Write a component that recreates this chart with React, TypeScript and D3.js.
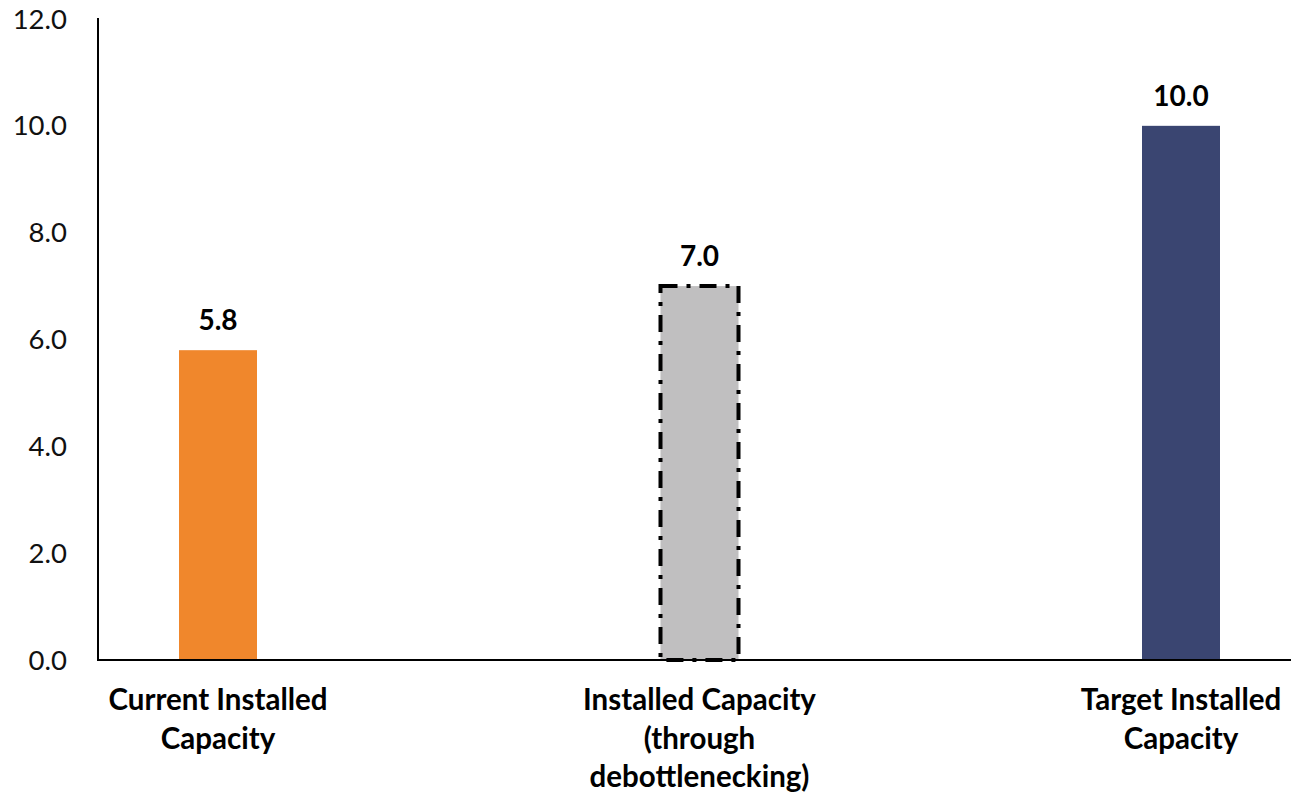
import React from "react";
import * as d3 from "d3";

const categories: string[][] = [
  ["Current Installed", "Capacity"],
  ["Installed Capacity", "(through", "debottlenecking)"],
  ["Target Installed", "Capacity"],
];
const values: number[] = [5.8, 7.0, 10.0];
const fills: string[] = ["#F0872C", "#C0BFC0", "#3A4571"];
const yTicks: number[] = [0, 2, 4, 6, 8, 10, 12];

const W = 1291;
const H = 796;
const FONT = "Lato, 'Open Sans', sans-serif";

export default function App() {
  const y = d3.scaleLinear().domain([0, 12]).range([660, 19]);
  const x = d3.scalePoint<number>().domain([0, 1, 2]).range([218, 1181]);
  const barW = 78;
  const fmt = d3.format(".1f");

  return (
    <svg
      width={W}
      height={H}
      style={{ position: "absolute", left: 0, top: 0, background: "#fff" }}
    >
      {yTicks.map((t) => (
        <text
          key={t}
          x={67}
          y={y(t)}
          dy="0.35em"
          textAnchor="end"
          fontFamily={FONT}
          fontSize={27.5}
          fill="#111"
        >
          {fmt(t)}
        </text>
      ))}

      {values.map((v, i) => {
        const cx = x(i)!;
        const dashed = i === 1;
        return (
          <g key={i}>
            <rect
              x={cx - barW / 2}
              y={y(v)}
              width={barW}
              height={y(0) - y(v)}
              fill={fills[i]}
              stroke={dashed ? "#000" : "none"}
              strokeWidth={dashed ? 4 : 0}
              strokeDasharray={dashed ? "17,9,4,9" : undefined}
            />
            <text
              x={cx}
              y={y(v) - 20}
              textAnchor="middle"
              fontFamily={FONT}
              fontWeight="bold"
              fontSize={28}
              fill="#000"
            >
              {fmt(v)}
            </text>
            {categories[i].map((line, j) => (
              <text
                key={j}
                x={cx}
                y={710 + j * 38.5}
                textAnchor="middle"
                fontFamily={FONT}
                fontWeight="bold"
                fontSize={29.5}
                fill="#000"
              >
                {line}
              </text>
            ))}
          </g>
        );
      })}

      <line x1={98} x2={98} y1={y(12) - 1} y2={y(0) + 1} stroke="#000" strokeWidth={2} />
      <line x1={97} x2={W} y1={y(0)} y2={y(0)} stroke="#000" strokeWidth={2} />
    </svg>
  );
}
